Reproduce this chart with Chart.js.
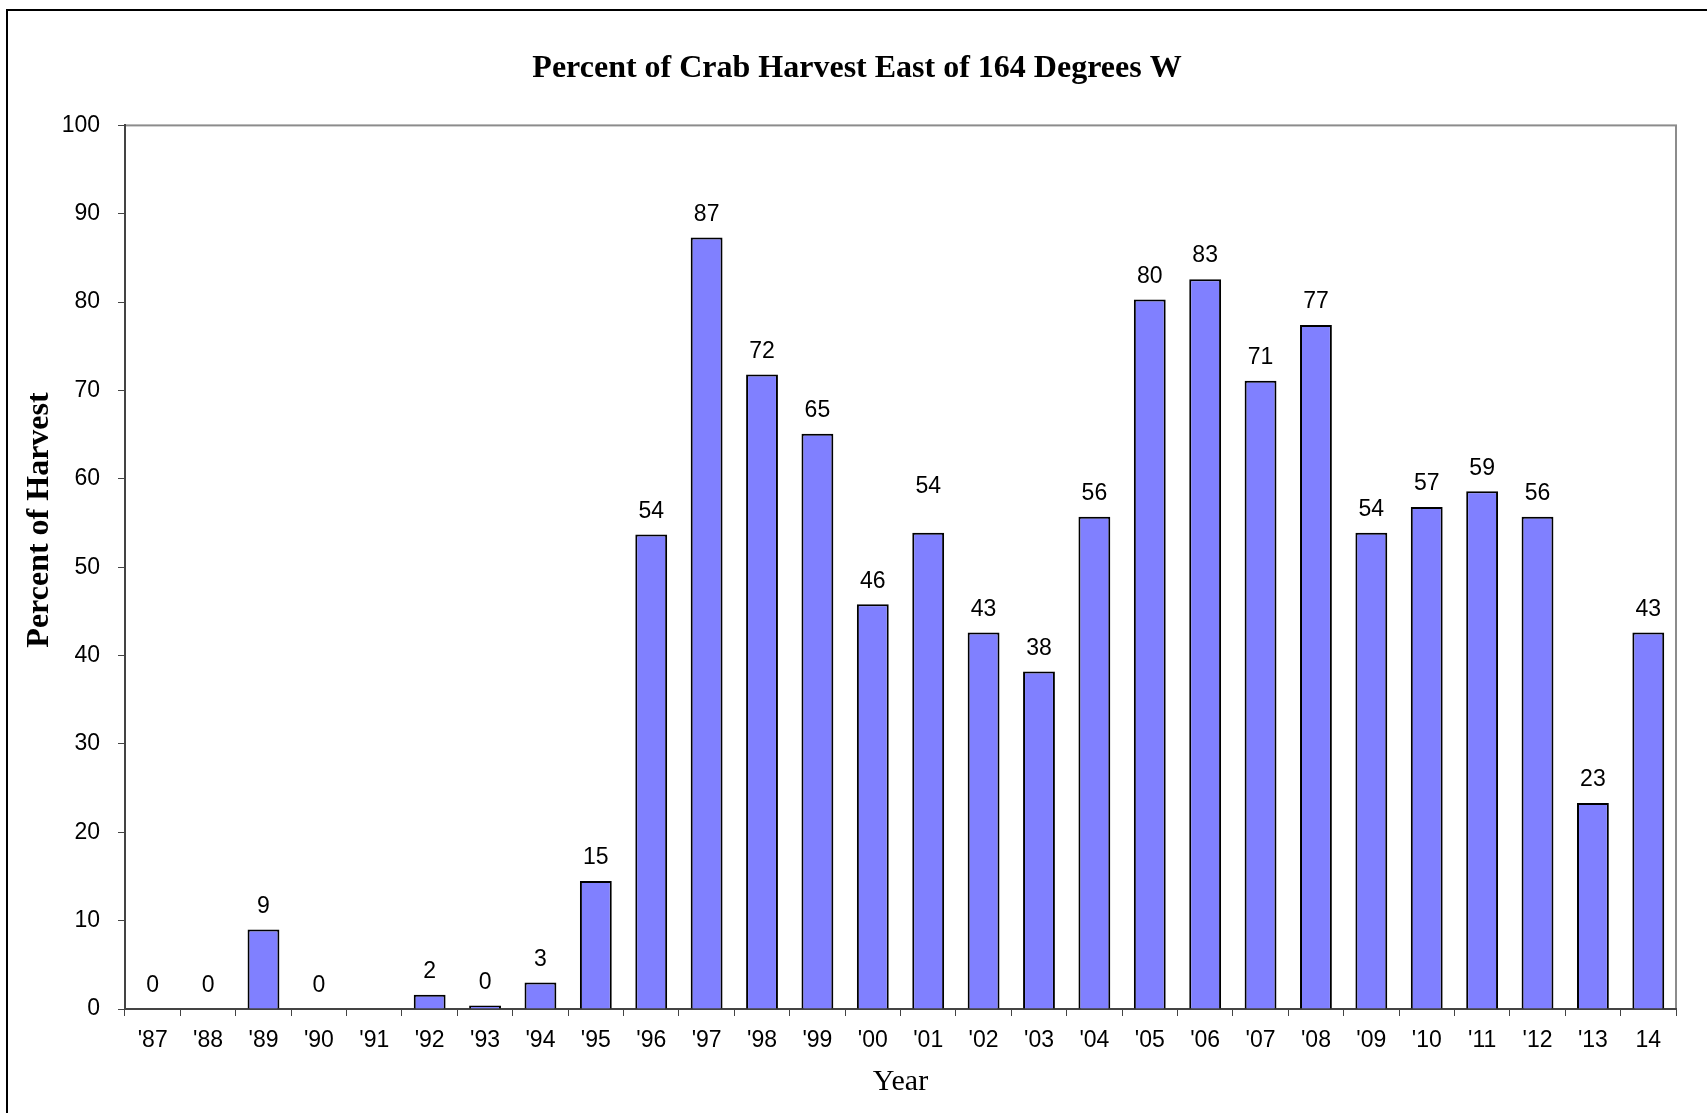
<!DOCTYPE html>
<html>
<head>
<meta charset="utf-8">
<title>Percent of Crab Harvest East of 164 Degrees W</title>
<script src="https://cdn.jsdelivr.net/npm/chart.js@4.4.0/dist/chart.umd.min.js"></script>
<style>
  html, body { margin: 0; padding: 0; background: #fff; }
  canvas { display: block; }
</style>
</head>
<body>
<canvas id="CrabChart" width="1707" height="1113"></canvas>
<script>
// data
var years = ["'87", "'88", "'89", "'90", "'91", "'92", "'93", "'94", "'95", "'96",
             "'97", "'98", "'99", "'00", "'01", "'02", "'03", "'04", "'05", "'06",
             "'07", "'08", "'09", "'10", "'11", "'12", "'13", "14"];
var harvestPct = [0, 0, 9.0, 0, null, 1.6, 0.4, 3.0, 14.5, 53.7,
                  87.3, 71.8, 65.1, 45.8, 53.9, 42.6, 38.2, 55.7, 80.3, 82.6,
                  71.1, 77.4, 53.9, 56.8, 58.6, 55.7, 23.3, 42.6];
var yMin = 0;
var yMax = 100;
var yStep = 10;

var chartTitle = "Percent of Crab Harvest East of 164 Degrees W";
var xTitle = "Year";
var yTitle = "Percent of Harvest";

var sans = "'Liberation Sans', Arial, sans-serif";
var serif = "'Liberation Serif', 'Times New Roman', serif";

// frame around the whole picture + grey box round the plot area
var framePlugin = {
  id: "frame",
  beforeDraw: function (chart) {
    var ctx = chart.ctx;
    var a = chart.chartArea;
    ctx.save();
    ctx.strokeStyle = "#000";
    ctx.lineWidth = 2;
    ctx.beginPath();
    ctx.moveTo(7, chart.height + 5);
    ctx.lineTo(7, 10);
    ctx.lineTo(chart.width + 5, 10);
    ctx.stroke();

    ctx.strokeStyle = "#8c8c8c";
    ctx.lineWidth = 2;
    ctx.strokeRect(a.left, a.top, a.right - a.left, a.bottom - a.top);
    ctx.restore();
  },
  afterDraw: function (chart) {
    // y axis title, Excel puts it a bit above the middle of the axis
    var ctx = chart.ctx;
    ctx.save();
    ctx.translate(40, 520);
    ctx.rotate(-Math.PI / 2);
    ctx.font = "bold 32px " + serif;
    ctx.fillStyle = "#000";
    ctx.textAlign = "center";
    ctx.textBaseline = "middle";
    ctx.fillText(yTitle, 0, 0);
    ctx.restore();
  }
};

// value labels above the bars
var labelNudge = { 14: 23 };
var valueLabels = {
  id: "valueLabels",
  afterDatasetsDraw: function (chart) {
    var ctx = chart.ctx;
    var meta = chart.getDatasetMeta(0);
    ctx.save();
    ctx.font = "23px " + sans;
    ctx.fillStyle = "#000";
    ctx.textAlign = "center";
    ctx.textBaseline = "middle";
    meta.data.forEach(function (bar, i) {
      var v = harvestPct[i];
      if (v === null) return;
      var up = 23 + (labelNudge[i] || 0);
      ctx.fillText(String(Math.round(v)), bar.x, bar.y - up);
    });
    ctx.restore();
  }
};

var ctx = document.getElementById("CrabChart").getContext("2d");
var chart = new Chart(ctx, {
  type: "bar",
  data: {
    labels: years,
    datasets: [
      {
        data: harvestPct,
        backgroundColor: "#8080ff",
        borderColor: "#000",
        borderWidth: 2,
        barPercentage: 0.575,
        categoryPercentage: 1.0
      }
    ]
  },
  options: {
    responsive: false,
    animation: false,
    devicePixelRatio: 1,
    layout: {
      padding: { left: 38, right: 31, top: 0, bottom: 0 }
    },
    plugins: {
      legend: { display: false },
      tooltip: { enabled: false },
      title: {
        display: true,
        text: chartTitle,
        color: "#000",
        font: { family: serif, size: 32, weight: "bold", lineHeight: 1.2 },
        padding: { top: 50, bottom: 37 }
      }
    },
    scales: {
      x: {
        grid: {
          display: true,
          drawOnChartArea: false,
          drawTicks: true,
          tickLength: 7,
          color: "#444",
          lineWidth: 1
        },
        border: { display: true, color: "#444", width: 2 },
        ticks: {
          color: "#000",
          font: { family: sans, size: 23 },
          padding: 11,
          maxRotation: 0,
          autoSkip: false
        },
        title: {
          display: true,
          text: xTitle,
          color: "#000",
          font: { family: serif, size: 30 },
          padding: { top: 4, bottom: 13 }
        },
        afterFit: function (scale) {
          scale.height = 104;
        }
      },
      y: {
        min: yMin,
        max: yMax,
        grid: {
          display: true,
          drawOnChartArea: false,
          drawTicks: true,
          tickLength: 7,
          color: "#444",
          lineWidth: 1
        },
        border: { display: true, color: "#444", width: 2 },
        ticks: {
          stepSize: yStep,
          color: "#000",
          font: { family: sans, size: 23 },
          padding: 18
        },
        afterFit: function (scale) {
          scale.width = 87;
        }
      }
    }
  },
  plugins: [framePlugin, valueLabels]
});
</script>
</body>
</html>
